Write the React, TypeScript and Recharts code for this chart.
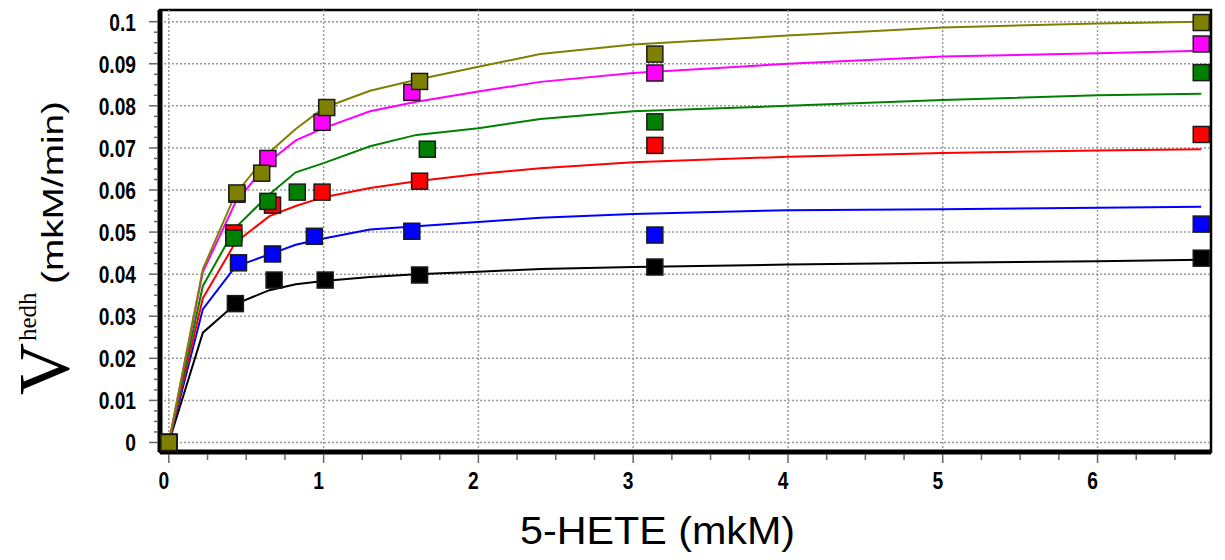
import {
  ComposedChart,
  Line,
  Scatter,
  XAxis,
  YAxis,
  ReferenceLine,
  ReferenceArea,
} from "recharts";

// fitted curves, sampled along 5-HETE
const curveX = [0, 0.22, 0.43, 0.65, 0.82, 1.0, 1.3, 1.6, 2.0, 2.4, 3.0, 4.0, 5.0, 6.0, 6.67];
const oliveFit = [0, 0.0412, 0.059, 0.069, 0.0745, 0.0795, 0.0836, 0.0862, 0.0893, 0.0923, 0.0946, 0.0967, 0.0986, 0.0996, 0.1];
const magentaFit = [0, 0.0405, 0.057, 0.0668, 0.0718, 0.0747, 0.0787, 0.081, 0.0834, 0.0857, 0.0878, 0.09, 0.0917, 0.0925, 0.0931];
const greenFit = [0, 0.0372, 0.051, 0.059, 0.0642, 0.0664, 0.0704, 0.0731, 0.0747, 0.0769, 0.0787, 0.08, 0.0814, 0.0825, 0.0829];
const redFit = [0, 0.0343, 0.0475, 0.0538, 0.0562, 0.0583, 0.0605, 0.0621, 0.0638, 0.0652, 0.0666, 0.0679, 0.0688, 0.0694, 0.0697];
const blueFit = [0, 0.0317, 0.0418, 0.0447, 0.047, 0.0485, 0.0506, 0.0514, 0.0524, 0.0534, 0.0543, 0.0552, 0.0554, 0.0558, 0.056];
const blackFit = [0, 0.0261, 0.0329, 0.0362, 0.0376, 0.0384, 0.0393, 0.04, 0.0406, 0.0412, 0.0417, 0.0423, 0.0427, 0.0431, 0.0434];

// measured points
const oliveX = [0, 0.44, 0.6, 1.02, 1.62, 3.14, 6.67];
const oliveY = [0, 0.0593, 0.064, 0.0796, 0.0858, 0.0923, 0.0998];
const magentaX = [0, 0.44, 0.64, 0.99, 1.57, 3.14, 6.67];
const magentaY = [0, 0.059, 0.0675, 0.0761, 0.0832, 0.0878, 0.0947];
const greenX = [0, 0.42, 0.64, 0.83, 1.67, 3.14, 6.67];
const greenY = [0, 0.0486, 0.0573, 0.0595, 0.0697, 0.0762, 0.0879];
const redX = [0, 0.42, 0.67, 0.99, 1.62, 3.14, 6.67];
const redY = [0, 0.0498, 0.0564, 0.0595, 0.0621, 0.0706, 0.0732];
const blueX = [0, 0.45, 0.67, 0.94, 1.57, 3.14, 6.67];
const blueY = [0, 0.0427, 0.0448, 0.049, 0.0502, 0.0493, 0.0519];
const blackX = [0, 0.43, 0.68, 1.01, 1.62, 3.14, 6.67];
const blackY = [0, 0.033, 0.0386, 0.0386, 0.0398, 0.0417, 0.0438];

const xMajor = [0, 1, 2, 3, 4, 5, 6];
const yMajor = [0, 0.01, 0.02, 0.03, 0.04, 0.05, 0.06, 0.07, 0.08, 0.09, 0.1];
const yLabels = ["0", "0.01", "0.02", "0.03", "0.04", "0.05", "0.06", "0.07", "0.08", "0.09", "0.1"];

const xDomain = [-0.057, 6.733];
const yDomain = [-0.00226, 0.10278];

// minor ticks: quarters between majors
const xTicks: number[] = [];
for (let i = 0; i <= 26; i++) xTicks.push(i / 4);
const yTicks: number[] = [];
for (let i = 0; i <= 40; i++) yTicks.push(i / 400);

const toPts = (xs: number[], ys: number[]) => xs.map((x, i) => ({ x, y: ys[i] }));

const series = [
  { name: "black", color: "#000000", fit: blackFit, xs: blackX, ys: blackY },
  { name: "blue", color: "#0000ff", fit: blueFit, xs: blueX, ys: blueY },
  { name: "red", color: "#ff0000", fit: redFit, xs: redX, ys: redY },
  { name: "green", color: "#008000", fit: greenFit, xs: greenX, ys: greenY },
  { name: "magenta", color: "#ff00ff", fit: magentaFit, xs: magentaX, ys: magentaY },
  { name: "olive", color: "#808000", fit: oliveFit, xs: oliveX, ys: oliveY },
];

// narrow bold sans, squeezed horizontally
const TickText = ({ x, y, anchor, children }: any) => (
  <text
    transform={`translate(${x},${y}) scale(0.8,1)`}
    x={0}
    y={0}
    textAnchor={anchor}
    fill="#000"
    fontFamily="'Liberation Sans', Arial, sans-serif"
    fontSize={24}
    fontWeight="bold"
  >
    {children}
  </text>
);

const XTick = (props: any) => {
  const { x, y, payload } = props;
  const v = payload.value;
  const major = Math.abs(v - Math.round(v)) < 1e-6;
  return (
    <g>
      <line x1={x} x2={x} y1={y + 2} y2={y + (major ? 11 : 8)} stroke="#666" strokeWidth={1.5} />
      {major && (
        <TickText x={x - 5} y={y + 37} anchor="middle">
          {v}
        </TickText>
      )}
    </g>
  );
};

const YTick = (props: any) => {
  const { x, y, payload } = props;
  const v = payload.value;
  const idx = yMajor.findIndex((m) => Math.abs(m - v) < 1e-7);
  const major = idx >= 0;
  return (
    <g>
      <line x1={x - (major ? 11 : 6)} x2={x - 2} y1={y} y2={y} stroke="#666" strokeWidth={1.5} />
      {major && (
        <TickText x={x - 24} y={y + 9} anchor="end">
          {yLabels[idx]}
        </TickText>
      )}
    </g>
  );
};

const YTitle = () => (
  <g>
    <text
      transform="rotate(-90, 68, 395)"
      x={68}
      y={395}
      fontFamily="'Liberation Serif', serif"
      fontSize={72}
      fill="#000"
    >
      V
    </text>
    <text
      transform="rotate(-90, 36, 341)"
      x={36}
      y={341}
      fontFamily="'Liberation Serif', serif"
      fontSize={25}
      fill="#000"
    >
      hedh
    </text>
    <text
      transform="rotate(-90, 63, 284)"
      x={63}
      y={284}
      textLength={183}
      lengthAdjust="spacingAndGlyphs"
      fontFamily="'Liberation Sans', Arial, sans-serif"
      fontSize={29}
      fill="#000"
    >
      (mkM/min)
    </text>
  </g>
);

const XTitle = () => (
  <text
    x={520}
    y={544}
    textLength={275}
    lengthAdjust="spacingAndGlyphs"
    fontFamily="'Liberation Sans', Arial, sans-serif"
    fontSize={38}
    fill="#000"
  >
    5-HETE (mkM)
  </text>
);

const makeSquare = (color: string) => (props: any) => {
  const { cx, cy } = props;
  return <rect x={cx - 8} y={cy - 8} width={16} height={16} fill={color} stroke="#1a1a1a" strokeWidth={1.5} />;
};

export default function App() {
  return (
    <div style={{ position: "absolute", left: 0, top: 0, background: "#fff" }}>
      <ComposedChart width={1225} height={560} margin={{ top: 10, right: 14, left: 0, bottom: 0 }}>
        <XAxis
          type="number"
          dataKey="x"
          domain={xDomain}
          ticks={xTicks}
          interval={0}
          allowDataOverflow
          height={108}
          tickSize={0}
          tickMargin={0}
          tickLine={false}
          tick={<XTick />}
          axisLine={{ stroke: "#000", strokeWidth: 5 }}
          label={{ content: () => <XTitle /> }}
        />
        <YAxis
          type="number"
          dataKey="y"
          domain={yDomain}
          ticks={yTicks}
          interval={0}
          allowDataOverflow
          width={160}
          tickSize={0}
          tickMargin={0}
          tickLine={false}
          tick={<YTick />}
          axisLine={{ stroke: "#000", strokeWidth: 5 }}
          label={{ content: () => <YTitle /> }}
        />
        <ReferenceArea
          x1={xDomain[0]}
          x2={xDomain[1]}
          y1={yDomain[0]}
          y2={yDomain[1]}
          fill="none"
          stroke="#000"
          strokeWidth={2.5}
        />
        {xMajor.map((t) => (
          <ReferenceLine key={`vx-${t}`} x={t} stroke="#9a9a9a" strokeWidth={1.5} strokeDasharray="2 2" />
        ))}
        {yMajor.map((t) => (
          <ReferenceLine key={`hy-${t}`} y={t} stroke="#9a9a9a" strokeWidth={1.5} strokeDasharray="2 2" />
        ))}
        {series.map((s) => (
          <Line
            key={`fit-${s.name}`}
            data={toPts(curveX, s.fit)}
            dataKey="y"
            type="linear"
            stroke={s.color}
            strokeWidth={2}
            dot={false}
            activeDot={false}
            isAnimationActive={false}
          />
        ))}
        {series.map((s) => (
          <Scatter
            key={`pts-${s.name}`}
            data={toPts(s.xs, s.ys)}
            dataKey="y"
            fill={s.color}
            shape={makeSquare(s.color)}
            isAnimationActive={false}
          />
        ))}
      </ComposedChart>
    </div>
  );
}
